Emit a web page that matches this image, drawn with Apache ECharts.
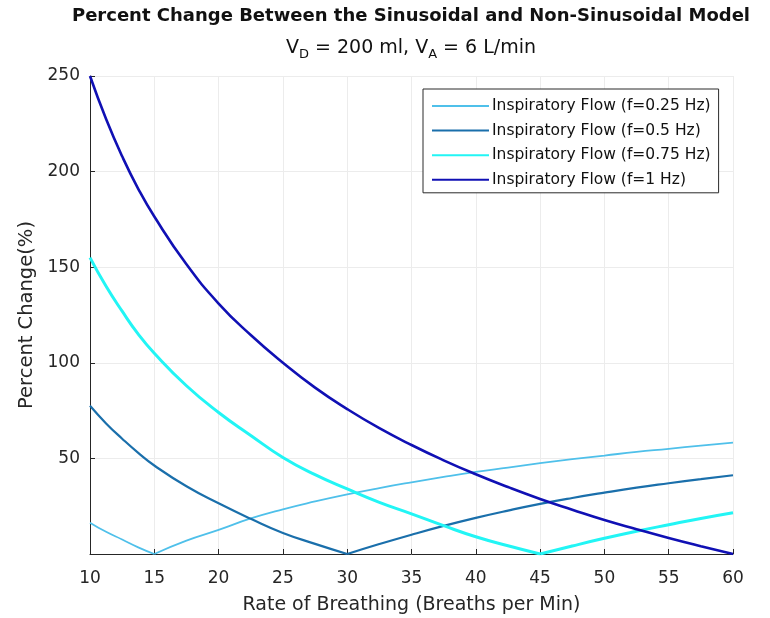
<!DOCTYPE html>
<html>
<head>
<meta charset="utf-8">
<script src="https://cdn.jsdelivr.net/npm/echarts@6/dist/echarts.min.js"></script>
<style>html,body{margin:0;padding:0;background:#fff}#c{width:770px;height:618px}</style>
</head>
<body>
<div id="c"></div>
<script>
// Data
const rates = [10, 11.25, 12.5, 13.75, 15, 17.5, 20, 22.5, 25, 27.5, 30, 32.5, 35, 37.5, 40, 42.5, 45, 47.5, 50, 52.5, 55, 57.5, 60];
const flow025 = [16.4, 11.6, 7.6, 3.5, 0, 7.0, 12.6, 18.6, 23.4, 27.5, 31.2, 34.5, 37.5, 40.3, 42.9, 45.2, 47.5, 49.6, 51.5, 53.4, 55.0, 56.7, 58.3];
const flow05  = [77.5, 68.3, 60.3, 52.9, 46.3, 35.4, 26.5, 18.4, 11.0, 5.3, 0, 5.2, 10.1, 14.7, 18.9, 22.7, 26.2, 29.3, 32.1, 34.7, 37.0, 39.2, 41.2];
const flow075 = [155, 140, 127, 115, 105, 88, 74, 62, 50.5, 41.5, 34, 27, 21, 14.8, 9, 4.3, 0, 4.2, 8.2, 11.9, 15.3, 18.6, 21.6];
const flow1   = [250, 227.5, 208, 191, 176.5, 151.5, 131, 114.5, 100, 87, 75.8, 65.8, 57, 49, 41.7, 35, 28.8, 23.2, 17.8, 13, 8.4, 4.1, 0];
const seriesNames = ['Inspiratory Flow (f=0.25 Hz)', 'Inspiratory Flow (f=0.5 Hz)', 'Inspiratory Flow (f=0.75 Hz)', 'Inspiratory Flow (f=1 Hz)'];
const xTicks = [10, 15, 20, 25, 30, 35, 40, 45, 50, 55, 60];
const yTicks = [50, 100, 150, 200, 250];

const colors = ['#4fc0ea', '#1a6fab', '#22f5f5', '#1010b4'];
const widths = [1.8, 2.2, 3, 2.6];
const allData = [flow025, flow05, flow075, flow1];

const series = [];
allData.forEach((vals, k) => {
  let minIdx = 0;
  vals.forEach((v, i) => { if (v < vals[minIdx]) minIdx = i; });
  const pts = rates.map((x, i) => [x, vals[i]]);
  const parts = [pts.slice(0, minIdx + 1)];
  if (minIdx < pts.length - 1) parts.push(pts.slice(minIdx));
  parts.forEach(p => {
    series.push({
      name: seriesNames[k], type: 'line', data: p, smooth: 0.5,
      symbol: 'none', showSymbol: false,
      lineStyle: { color: colors[k], width: widths[k] },
      itemStyle: { color: colors[k] },
      z: 2 + k
    });
  });
});

const FONT = 'DejaVu Sans';
const chart = echarts.init(document.getElementById('c'));
chart.setOption({
  animation: false,
  backgroundColor: '#ffffff',
  graphic: [
    { type: 'text', x: 411, y: 16,
      style: { text: 'Percent Change Between the Sinusoidal and Non-Sinusoidal Model',
        font: 'bold 18px "DejaVu Sans"', fill: '#111', align: 'center', verticalAlign: 'middle' } },
    { type: 'text', x: 411, y: 48,
      style: { text: 'V{sub|D} = 200 ml, V{sub|A} = 6 L/min',
        font: '19px "DejaVu Sans"', fill: '#111', align: 'center', verticalAlign: 'middle',
        rich: { sub: { fontSize: 13, fontFamily: FONT, fill: '#111', padding: [14, 0, 0, 0] } } } }
  ],
  grid: { left: 90, right: 37, top: 76, bottom: 64, containLabel: false, outerBoundsMode: 'none' },
  legend: {
    orient: 'vertical', left: 423, top: 89,
    data: seriesNames,
    itemWidth: 57, itemHeight: 12, itemGap: 8.6,
    itemStyle: { opacity: 0 },
    backgroundColor: '#fff', borderColor: '#2a2a2a', borderWidth: 1,
    padding: [9, 8, 5, 8],
    textStyle: { fontFamily: FONT, fontSize: 15.5, color: '#111', padding: [0, 0, 0, -2] }
  },
  xAxis: {
    type: 'value', min: 10, max: 60, interval: 5,
    name: 'Rate of Breathing (Breaths per Min)', nameLocation: 'middle', nameGap: 42,
    nameTextStyle: { fontFamily: FONT, fontSize: 19, color: '#262626' },
    axisLine: { show: true, onZero: false, lineStyle: { color: '#262626', width: 1 } },
    axisTick: { show: true, inside: true, length: 5, lineStyle: { color: '#262626' } },
    axisLabel: { fontFamily: FONT, fontSize: 17, color: '#262626', margin: 16,
      customValues: xTicks },
    splitLine: { show: true, lineStyle: { color: '#ececec', width: 1 } }
  },
  yAxis: {
    type: 'value', min: 0, max: 250, interval: 50,
    name: 'Percent Change(%)', nameLocation: 'middle', nameGap: 48, nameRotate: 90,
    nameTextStyle: { fontFamily: FONT, fontSize: 19.5, color: '#262626', padding: [0, 0, 0, 0] },
    axisLine: { show: true, onZero: false, lineStyle: { color: '#262626', width: 1 } },
    axisTick: { show: true, inside: true, length: 5, lineStyle: { color: '#262626' } },
    axisLabel: { fontFamily: FONT, fontSize: 17, color: '#262626', margin: 10,
      showMinLabel: false,
      formatter: v => (yTicks.indexOf(v) >= 0 ? String(v) : '') },
    splitLine: { show: true, lineStyle: { color: '#ececec', width: 1 } }
  },
  series: series
});
</script>
</body>
</html>
